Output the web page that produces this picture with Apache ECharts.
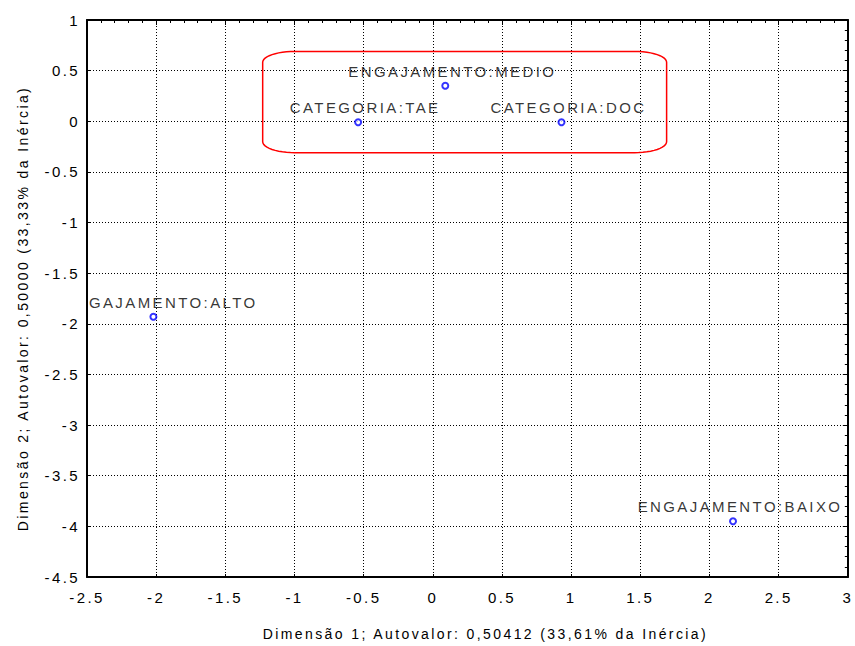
<!DOCTYPE html>
<html><head><meta charset="utf-8">
<script src="https://cdn.jsdelivr.net/npm/echarts/dist/echarts.min.js"></script>
<style>
html,body{margin:0;padding:0;background:#fff}
#c{width:855px;height:646px}
#c svg text{letter-spacing:2.4px}
</style></head><body><div id="c"></div>
<script>
// data
const pointNames = ['ENGAJAMENTO:MEDIO', 'CATEGORIA:TAE', 'CATEGORIA:DOC', 'ENGAJAMENTO:ALTO', 'ENGAJAMENTO:BAIXO'];
const dim1 = [0.09, -0.54, 0.93, -2.02, 2.17];
const dim2 = [0.35, -0.01, -0.01, -1.93, -3.95];
const xTitle = 'Dimensão 1; Autovalor: 0,50412 (33,61% da Inércia)';
const yTitle = 'Dimensão 2; Autovalor: 0,50000 (33,33% da Inércia)';
// annotation box (data coords)
const boxX = [-1.23, 1.69];
const boxY = [-0.31, 0.69];

const FONT = '"Liberation Sans", Arial, sans-serif';
const chart = echarts.init(document.getElementById('c'), null, {renderer: 'svg'});

const option = {
  animation: false,
  backgroundColor: '#fff',
  grid: {left: 87, right: 5, top: 20, bottom: 64, containLabel: false},
  xAxis: [
    {type: 'value', min: -2.5, max: 3, interval: 0.5, position: 'bottom',
     axisLine: {show: true, onZero: false, lineStyle: {color: '#000', width: 2}},
     axisTick: {show: true, inside: true, length: 3, lineStyle: {color: '#000'}},
     axisLabel: {fontSize: 15, color: '#000', margin: 13, fontFamily: FONT},
     splitLine: {show: true, lineStyle: {type: [1, 2], color: '#000', width: 1}},
     name: xTitle, nameLocation: 'middle', nameGap: 50,
     nameTextStyle: {fontSize: 14, color: '#000', fontFamily: FONT, padding: [0, 0, 0, 36]}},
    {type: 'value', min: -2.5, max: 3, interval: 0.5, position: 'top',
     axisLine: {show: true, onZero: false, lineStyle: {color: '#000', width: 2}},
     axisTick: {show: true, inside: true, length: 5, lineStyle: {color: '#000'}},
     minorTick: {show: true, splitNumber: 5, length: 3, lineStyle: {color: '#000'}},
     axisLabel: {show: false}, splitLine: {show: false}}
  ],
  yAxis: [
    {type: 'value', min: -4.5, max: 1, interval: 0.5, position: 'left',
     axisLine: {show: true, onZero: false, lineStyle: {color: '#000', width: 2}},
     axisTick: {show: true, inside: true, length: 3, lineStyle: {color: '#000'}},
     axisLabel: {fontSize: 15, color: '#000', margin: 7, fontFamily: FONT},
     splitLine: {show: true, lineStyle: {type: [1, 2], color: '#000', width: 1}},
     name: yTitle, nameLocation: 'middle', nameGap: 57, nameRotate: 90,
     nameTextStyle: {fontSize: 14, color: '#000', fontFamily: FONT, padding: [0, 20, 0, 0]}},
    {type: 'value', min: -4.5, max: 1, interval: 0.5, position: 'right',
     axisLine: {show: true, onZero: false, lineStyle: {color: '#000', width: 2}},
     axisTick: {show: true, inside: true, length: 5, lineStyle: {color: '#000'}},
     minorTick: {show: true, splitNumber: 5, length: 3, lineStyle: {color: '#000'}},
     axisLabel: {show: false}, splitLine: {show: false}}
  ],
  series: [{
    type: 'scatter', xAxisIndex: 0, yAxisIndex: 0, clip: false,
    symbol: 'emptyCircle', symbolSize: 6,
    itemStyle: {color: '#0000ff', borderColor: '#0000ff', borderWidth: 1},
    label: {show: true, position: 'top', distance: 3, offset: [7, 0],
      formatter: p => p.data[2], fontSize: 15, color: '#000', fontFamily: FONT},
    data: pointNames.map((n, i) => [dim1[i], dim2[i], n])
  }]
};
chart.setOption(option);

// annotation box with rounded (elliptical) corners
const tl = chart.convertToPixel({xAxisIndex: 0, yAxisIndex: 0}, [boxX[0], boxY[1]]);
const br = chart.convertToPixel({xAxisIndex: 0, yAxisIndex: 0}, [boxX[1], boxY[0]]);
const rx = 32, ry = 11;
const pts = [];
function arc(cx, cy, a0, a1) {
  for (let k = 0; k <= 12; k++) {
    const a = (a0 + (a1 - a0) * k / 12) * Math.PI / 180;
    pts.push([cx + rx * Math.cos(a), cy + ry * Math.sin(a)]);
  }
}
arc(tl[0] + rx, tl[1] + ry, 180, 270);
arc(br[0] - rx, tl[1] + ry, 270, 360);
arc(br[0] - rx, br[1] - ry, 0, 90);
arc(tl[0] + rx, br[1] - ry, 90, 180);

// mask for the clipped ALTO label at the left plot edge
const alto = chart.convertToPixel({xAxisIndex: 0, yAxisIndex: 0}, [dim1[3], dim2[3]]);
const gridLeft = chart.convertToPixel({xAxisIndex: 0}, -2.5);

chart.setOption({
  graphic: [
    {type: 'polygon', z: 50, shape: {points: pts},
     style: {fill: 'none', stroke: '#ff0000', lineWidth: 1.5}},
    {type: 'rect', z: 100, shape: {x: 36, y: alto[1] - 28, width: gridLeft - 37, height: 22},
     style: {fill: '#fff'}}
  ]
});
</script></body></html>
